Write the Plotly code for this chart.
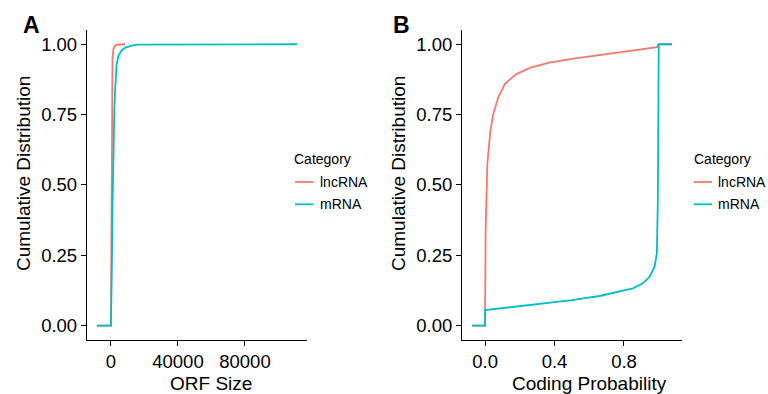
import plotly.graph_objects as go

# ---- data ----
categories = ["lncRNA", "mRNA"]
colors = {"lncRNA": "#F8766D", "mRNA": "#00BFC4"}

# Panel A: ECDF of ORF size
lnc_orf_x = [-8400, 0, 0, 150, 300, 450, 600, 900, 1500, 3000, 8400]
lnc_orf_y = [0, 0, 0.02, 0.30, 0.60, 0.78, 0.88, 0.95, 0.985, 0.998, 1.0]
mrna_orf_x = [-8400, 0, 0, 300, 600, 900, 1200, 1500, 2000, 2500, 3400, 4500,
              6400, 8500, 10300, 13000, 16000, 111000]
mrna_orf_y = [0, 0, 0.01, 0.08, 0.25, 0.42, 0.55, 0.65, 0.76, 0.84, 0.93, 0.96,
              0.978, 0.988, 0.992, 0.996, 0.999, 1.0]

# Panel B: ECDF of coding probability
lnc_cp_x = [-0.075, 0, 0, 0.003, 0.013, 0.03, 0.046, 0.075, 0.115, 0.18, 0.265,
            0.37, 0.5, 0.62, 0.75, 0.85, 0.95, 0.99, 1.0, 1.076]
lnc_cp_y = [0, 0, 0.055, 0.34, 0.576, 0.69, 0.75, 0.81, 0.86, 0.894, 0.918,
            0.935, 0.948, 0.958, 0.968, 0.976, 0.985, 0.99, 1.0, 1.0]
mrna_cp_x = [-0.075, 0, 0, 0.2, 0.37, 0.5, 0.659, 0.75, 0.851, 0.908, 0.947,
             0.976, 0.989, 0.995, 0.998, 1.0, 1.076]
mrna_cp_y = [0, 0, 0.055, 0.068, 0.081, 0.09, 0.105, 0.117, 0.132, 0.15, 0.173,
             0.209, 0.256, 0.445, 0.75, 1.0, 1.0]

y_ticks = [0, 0.25, 0.5, 0.75, 1.0]
y_ticklabels = ["0.00", "0.25", "0.50", "0.75", "1.00"]
orf_ticks = [0, 40000, 80000]
orf_ticklabels = ["0", "40000", "80000"]
cp_ticks = [0, 0.4, 0.8]
cp_ticklabels = ["0.0", "0.4", "0.8"]
legend_title = "Category"
y_title = "Cumulative Distribution"
x_titles = ["ORF Size", "Coding Probability"]
panel_labels = ["A", "B"]

FONT = "Liberation Sans, Arial, Helvetica, sans-serif"
W, H = 768, 394


def fx(px):
    return px / W


def fy(py):
    return 1 - py / H


fig = go.Figure()
panel_a = {"lncRNA": (lnc_orf_x, lnc_orf_y), "mRNA": (mrna_orf_x, mrna_orf_y)}
panel_b = {"lncRNA": (lnc_cp_x, lnc_cp_y), "mRNA": (mrna_cp_x, mrna_cp_y)}
for cat in categories:
    x, y = panel_a[cat]
    fig.add_trace(go.Scatter(x=x, y=y, mode="lines", name=cat, showlegend=False,
                             line=dict(color=colors[cat], width=1.8),
                             xaxis="x", yaxis="y"))
for cat in categories:
    x, y = panel_b[cat]
    fig.add_trace(go.Scatter(x=x, y=y, mode="lines", name=cat, showlegend=False,
                             line=dict(color=colors[cat], width=1.8),
                             xaxis="x2", yaxis="y2"))


def xrange(vals):
    lo, hi = min(vals), max(vals)
    pad = (hi - lo) * 0.05
    return [lo - pad, hi + pad]


common_axis = dict(showline=True, linecolor="black", linewidth=1.1,
                   ticks="outside", ticklen=5, tickwidth=1.1, tickcolor="black",
                   showgrid=False, zeroline=False,
                   tickfont=dict(family=FONT, size=18.5, color="black"))

ydom = [fy(339.6), fy(30.2)]

annotations = []
shapes = []

# ---- manual legends (ggplot-style: short line key, text to the right) ----
for (title_x, line_x0, line_x1, text_x) in [(292.7, 295, 313.3, 319.3),
                                            (693.3, 694, 712, 717.3)]:
    annotations.append(dict(text=legend_title, x=fx(title_x - 1), y=fy(159),
                            xref="paper", yref="paper", xanchor="left",
                            yanchor="middle", showarrow=False,
                            font=dict(family=FONT, size=14, color="black")))
    for cat, yy in zip(categories, [182, 204.3]):
        shapes.append(dict(type="line", xref="paper", yref="paper",
                           x0=fx(line_x0), x1=fx(line_x1), y0=fy(yy), y1=fy(yy),
                           line=dict(color=colors[cat], width=1.8)))
        annotations.append(dict(text=cat, x=fx(text_x - 1), y=fy(yy),
                                xref="paper", yref="paper", xanchor="left",
                                yanchor="middle", showarrow=False,
                                font=dict(family=FONT, size=14, color="black")))

# ---- axis titles ----
for cx, txt in zip([210.5, 589], x_titles):
    annotations.append(dict(text=txt, x=fx(cx), y=fy(383), xref="paper",
                            yref="paper", xanchor="center", yanchor="middle",
                            showarrow=False,
                            font=dict(family=FONT, size=19, color="black")))
for cx in [23, 398]:
    annotations.append(dict(text=y_title, x=fx(cx), y=fy(174), xref="paper",
                            yref="paper", xanchor="center", yanchor="middle",
                            textangle=-90, showarrow=False,
                            font=dict(family=FONT, size=19, color="black")))

# ---- panel tags ----
for lx, lab in zip([21, 391], panel_labels):
    annotations.append(dict(text="<b>" + lab + "</b>", x=fx(lx), y=fy(25),
                            xref="paper", yref="paper", xanchor="left",
                            yanchor="middle", showarrow=False,
                            font=dict(family=FONT, size=23, color="black")))

fig.update_layout(
    width=W, height=H,
    margin=dict(l=0, r=0, t=0, b=0),
    paper_bgcolor="white", plot_bgcolor="white",
    font=dict(family=FONT, color="black"),
    showlegend=False,
    xaxis=dict(domain=[fx(86.9), fx(306.9)], anchor="y",
               range=xrange(lnc_orf_x + mrna_orf_x),
               tickvals=orf_ticks, ticktext=orf_ticklabels, **common_axis),
    yaxis=dict(domain=ydom, anchor="x", range=[-0.05, 1.05],
               tickvals=y_ticks, ticktext=y_ticklabels, **common_axis),
    xaxis2=dict(domain=[fx(462.1), fx(681.9)], anchor="y2",
                range=xrange(lnc_cp_x + mrna_cp_x),
                tickvals=cp_ticks, ticktext=cp_ticklabels, **common_axis),
    yaxis2=dict(domain=ydom, anchor="x2", range=[-0.05, 1.05],
                tickvals=y_ticks, ticktext=y_ticklabels, **common_axis),
    annotations=annotations,
    shapes=shapes,
)

# remove the default 8px page margin so the 768x394 figure fills the window
fig.write_html("out.html",
               config={"displayModeBar": False},
               post_script="document.body.style.margin='0';"
                           "document.body.style.overflow='hidden';")
